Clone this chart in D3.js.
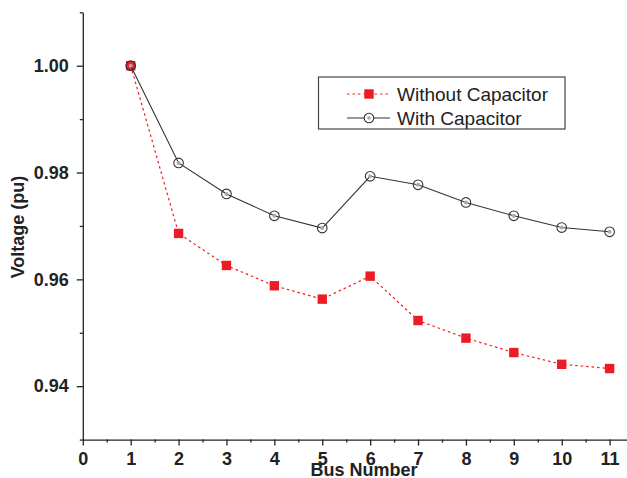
<!DOCTYPE html>
<html>
<head>
<meta charset="utf-8">
<script src="https://cdn.jsdelivr.net/npm/d3@7"></script>
<style>
  body { margin: 0; background: #fff; }
  svg { display: block; font-family: "Liberation Sans", Arial, sans-serif; }
</style>
</head>
<body>
<svg id="chart" width="627" height="478"></svg>
<script>
const busNumbers = [1, 2, 3, 4, 5, 6, 7, 8, 9, 10, 11];
const withoutCapacitor = [1.0000, 0.9686, 0.9626, 0.9588, 0.9563, 0.9606, 0.9523, 0.9490, 0.9463, 0.9441, 0.9433];
const withCapacitor = [1.0000, 0.9818, 0.9760, 0.9719, 0.9696, 0.9793, 0.9777, 0.9744, 0.9719, 0.9697, 0.9689];
const xTicks = [0, 1, 2, 3, 4, 5, 6, 7, 8, 9, 10, 11];
const xMinorTicks = [0.5, 1.5, 2.5, 3.5, 4.5, 5.5, 6.5, 7.5, 8.5, 9.5, 10.5, 11.5];
const yTicks = [0.94, 0.96, 0.98, 1.00];
const yMinorTicks = [0.93, 0.95, 0.97, 0.99, 1.01];
const seriesNames = ["Without Capacitor", "With Capacitor"];

const svg = d3.select("#chart");
const mLeft = 82.8, mTop = 12.3, mBottom = 439.6;
const x = d3.scaleLinear().domain([0, 11]).range([mLeft, 609.6]);
const xEnd = 11.4;
const xFull = d3.scaleLinear().domain([0, xEnd]).range([mLeft, x(xEnd)]);
const y = d3.scaleLinear().domain([0.93, 1.01]).range([mBottom, mTop]);

const axisColor = "#222";

// X axis
const gx = svg.append("g").attr("transform", `translate(0,${mBottom})`);
gx.call(d3.axisBottom(xFull).tickValues(xTicks).tickFormat(d3.format("d")).tickSize(6).tickPadding(7).tickSizeOuter(0));
gx.append("g").call(d3.axisBottom(xFull).tickValues(xMinorTicks).tickFormat("").tickSize(3))
  .select(".domain").remove();
gx.selectAll("path, line").attr("stroke", axisColor).attr("stroke-width", 1.3);
gx.selectAll("text").attr("font-size", 18).attr("font-weight", "bold").attr("fill", "#222")
  .attr("font-family", "Liberation Sans, Arial, sans-serif");

// Y axis
const gy = svg.append("g").attr("transform", `translate(${mLeft},0)`);
gy.call(d3.axisLeft(y).tickValues(yTicks).tickFormat(d3.format(".2f")).tickSize(6).tickPadding(8).tickSizeOuter(0));
gy.append("g").call(d3.axisLeft(y).tickValues(yMinorTicks).tickFormat("").tickSize(3))
  .select(".domain").remove();
gy.selectAll("path, line").attr("stroke", axisColor).attr("stroke-width", 1.3);
gy.selectAll("text").attr("font-size", 18).attr("font-weight", "bold").attr("fill", "#222")
  .attr("font-family", "Liberation Sans, Arial, sans-serif");

// Axis titles
svg.append("text").attr("x", 364).attr("y", 476).attr("text-anchor", "middle")
  .attr("font-size", 18).attr("font-weight", "bold").attr("fill", "#222").text("Bus Number");
svg.append("text").attr("transform", `translate(24,227) rotate(-90)`).attr("text-anchor", "middle")
  .attr("font-size", 18).attr("font-weight", "bold").attr("fill", "#222").text("Voltage (pu)");

const red = "#ec1c24";
const dark = "#333";

const dataWithout = busNumbers.map((b, i) => ({ x: b, y: withoutCapacitor[i] }));
const dataWith = busNumbers.map((b, i) => ({ x: b, y: withCapacitor[i] }));
const line = d3.line().x(d => x(d.x)).y(d => y(d.y));

// Without capacitor (red dotted, squares)
svg.append("path").datum(dataWithout).attr("d", line).attr("fill", "none")
  .attr("stroke", red).attr("stroke-width", 1.2).attr("stroke-dasharray", "2.5,3");
svg.append("g").selectAll("rect").data(dataWithout).join("rect")
  .attr("x", d => x(d.x) - 4.7).attr("y", d => y(d.y) - 4.7)
  .attr("width", 9.4).attr("height", 9.4).attr("fill", red);

// With capacitor (black solid, open circles)
svg.append("path").datum(dataWith).attr("d", line).attr("fill", "none")
  .attr("stroke", dark).attr("stroke-width", 1.1);
const gc = svg.append("g");
gc.selectAll("circle.in").data(dataWith).join("circle").attr("class", "in")
  .attr("cx", d => x(d.x)).attr("cy", d => y(d.y)).attr("r", 2).attr("fill", "#aaa");
gc.selectAll("circle.out").data(dataWith).join("circle").attr("class", "out")
  .attr("cx", d => x(d.x)).attr("cy", d => y(d.y)).attr("r", 4.8)
  .attr("fill", "none").attr("stroke", dark).attr("stroke-width", 1.1);

// Legend
const lg = svg.append("g");
lg.append("rect").attr("x", 318.5).attr("y", 77).attr("width", 246.5).attr("height", 52)
  .attr("fill", "#fff").attr("stroke", "#444").attr("stroke-width", 1.2);
// row 1
lg.append("line").attr("x1", 347).attr("x2", 390).attr("y1", 94).attr("y2", 94)
  .attr("stroke", red).attr("stroke-width", 1.2).attr("stroke-dasharray", "2.5,3");
lg.append("rect").attr("x", 369 - 4.7).attr("y", 94 - 4.7).attr("width", 9.4).attr("height", 9.4).attr("fill", red);
lg.append("text").attr("x", 397).attr("y", 101).attr("font-size", 19).attr("fill", "#222").text(seriesNames[0]);
// row 2
lg.append("line").attr("x1", 347).attr("x2", 390).attr("y1", 118).attr("y2", 118)
  .attr("stroke", dark).attr("stroke-width", 1.1);
lg.append("circle").attr("cx", 369).attr("cy", 118).attr("r", 4.8).attr("fill", "#fff")
  .attr("stroke", dark).attr("stroke-width", 1.1);
lg.append("circle").attr("cx", 369).attr("cy", 118).attr("r", 1.8).attr("fill", "#aaa");
lg.append("text").attr("x", 397).attr("y", 125).attr("font-size", 19).attr("fill", "#222").text(seriesNames[1]);
</script>
</body>
</html>
